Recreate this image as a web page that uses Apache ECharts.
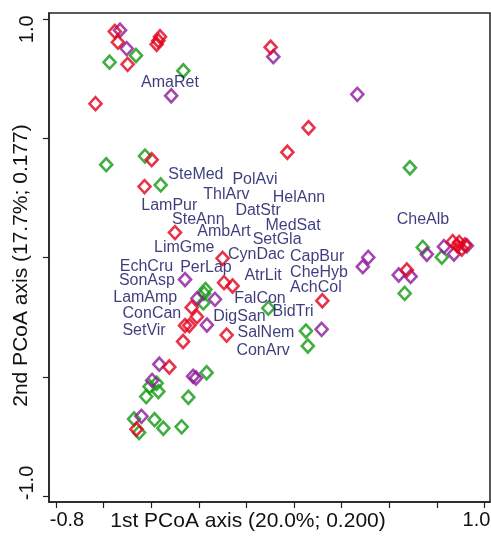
<!DOCTYPE html>
<html>
<head>
<meta charset="utf-8">
<script src="https://cdn.jsdelivr.net/npm/echarts@6/dist/echarts.min.js"></script>
<style>html,body{margin:0;padding:0;background:#fff}#c{width:491px;height:541px}</style>
</head>
<body>
<div id="c"></div>
<script>
// Site scores (1st PCoA, 2nd PCoA)
const redPoints = [
  [-0.553, 0.949], [-0.540, 0.904], [-0.363, 0.927], [-0.370, 0.910], [-0.377, 0.895],
  [-0.499, 0.811], [-0.634, 0.646], [0.102, 0.883], [0.261, 0.545], [0.172, 0.442],
  [-0.398, 0.411], [-0.428, 0.298], [-0.300, 0.105], [-0.100, -0.003], [-0.094, -0.105],
  [-0.058, -0.119], [-0.230, -0.209], [-0.208, -0.248], [-0.258, -0.285], [-0.240, -0.285],
  [-0.083, -0.325], [-0.266, -0.352], [-0.324, -0.459], [-0.462, -0.720], [0.319, -0.181],
  [0.674, -0.052], [0.867, 0.067], [0.886, 0.050], [0.905, 0.036], [0.918, 0.053], [0.894, 0.064]
];
const greenPoints = [
  [-0.575, 0.820], [-0.464, 0.848], [-0.265, 0.784], [-0.589, 0.390], [-0.426, 0.426],
  [-0.360, 0.305], [0.687, 0.377], [-0.172, -0.134], [-0.178, -0.150], [-0.181, -0.190],
  [0.092, -0.212], [0.250, -0.308], [0.258, -0.371], [-0.167, -0.483], [-0.377, -0.527],
  [-0.407, -0.541], [-0.370, -0.562], [-0.421, -0.583], [-0.244, -0.586], [-0.472, -0.677],
  [-0.386, -0.680], [-0.451, -0.734], [-0.349, -0.716], [-0.272, -0.710], [0.741, 0.043],
  [0.821, 0.002], [0.665, -0.150]
];
const purplePoints = [
  [-0.531, 0.954], [-0.503, 0.877], [-0.316, 0.679], [0.113, 0.843], [0.466, 0.685],
  [-0.258, -0.092], [-0.206, -0.171], [-0.132, -0.175], [-0.166, -0.283], [0.512, 0.001],
  [0.489, -0.038], [0.316, -0.301], [-0.366, -0.447], [-0.224, -0.498], [-0.212, -0.505],
  [-0.396, -0.515], [-0.441, -0.666], [0.758, 0.014], [0.830, 0.046], [0.872, 0.015],
  [0.926, 0.050], [0.640, -0.073], [0.690, -0.079]
];
// Species scores
const speciesNames = [
  'AmaRet','SteMed','PolAvi','ThlArv','HelAnn','LamPur','DatStr','SteAnn','CheAlb','MedSat',
  'AmbArt','SetGla','LimGme','CynDac','CapBur','EchCru','PerLap','CheHyb','AtrLit','SonAsp',
  'AchCol','LamAmp','FalCon','BidTri','ConCan','DigSan','SetVir','SalNem','ConArv'
];
const speciesX = [
  -0.321, -0.212, 0.036, -0.084, 0.221, -0.324, 0.049, -0.202, 0.742, 0.196,
  -0.094, 0.129, -0.261, 0.042, 0.297, -0.420, -0.170, 0.305, 0.070, -0.418,
  0.292, -0.425, 0.057, 0.196, -0.397, -0.029, -0.430, 0.082, 0.070
];
const speciesY = [
  0.736, 0.347, 0.326, 0.263, 0.252, 0.218, 0.196, 0.158, 0.161, 0.133,
  0.108, 0.074, 0.042, 0.011, 0.003, -0.037, -0.043, -0.064, -0.077, -0.098,
  -0.124, -0.166, -0.173, -0.227, -0.236, -0.247, -0.308, -0.316, -0.392
];
const xTicks = [-0.8, -0.6, -0.4, -0.2, 0, 0.2, 0.4, 0.6, 0.8, 1.0];
const xTickLabels = [-0.8, 1.0];
const yTicks = [-1.0, -0.5, 0, 0.5, 1.0];
const yTickLabels = [-1.0, 1.0];
const xName = '1st PCoA axis (20.0%; 0.200)';
const yName = '2nd PCoA axis (17.7%; 0.177)';

const FONT = "'Liberation Sans', Arial, sans-serif";
const chart = echarts.init(document.getElementById('c'), null, {renderer: 'canvas'});

function diamondSeries(data, color) {
  return {
    type: 'scatter', data: data, symbol: 'diamond', symbolSize: [12, 13],
    itemStyle: {color: 'rgba(0,0,0,0)', borderColor: color, borderWidth: 2.6},
    emphasis: {disabled: true}, silent: true, z: 3
  };
}

const speciesData = speciesNames.map((n, i) => ({name: n, value: [speciesX[i], speciesY[i]]}));

chart.setOption({
  animation: false,
  backgroundColor: '#fff',
  grid: {left: 49, right: 1, top: 13, bottom: 39, show: true, borderColor: '#222', borderWidth: 1.5,
         containLabel: false, outerBoundsMode: 'none'},
  xAxis: {
    type: 'value', min: -0.8294, max: 1.0235,
    axisLine: {show: true, onZero: false, lineStyle: {color: '#222', width: 1.5}},
    axisTick: {show: true, length: 6, customValues: xTicks, lineStyle: {color: '#222', width: 1.2}},
    axisLabel: {
      customValues: xTickLabels, margin: 8, color: '#111', fontSize: 20, fontFamily: FONT,
      formatter: v => (v < 0 ? '{a|' : '{b|') + v.toFixed(1) + '}',
      rich: {
        a: {fontSize: 20, color: '#111', fontFamily: FONT, padding: [0, 0, 0, 22]},
        b: {fontSize: 20, color: '#111', fontFamily: FONT, padding: [0, 16, 0, 0]}
      }
    },
    splitLine: {show: false},
    name: xName, nameLocation: 'middle', nameGap: 9, nameMoveOverlap: false,
    nameTextStyle: {fontSize: 21, color: '#111', fontFamily: FONT, padding: [0, 43, 0, 0]}
  },
  yAxis: {
    type: 'value', min: -1.0253, max: 1.0264,
    axisLine: {show: true, onZero: false, lineStyle: {color: '#222', width: 1.5}},
    axisTick: {show: true, length: 6, customValues: yTicks, lineStyle: {color: '#222', width: 1.2}},
    axisLabel: {
      customValues: yTickLabels, rotate: 90, margin: 12, color: '#111', fontSize: 20, fontFamily: FONT,
      formatter: v => (v < 0 ? '{a|' : '{b|') + v.toFixed(1) + '}',
      rich: {
        a: {fontSize: 20, color: '#111', fontFamily: FONT, padding: [0, 0, 0, 26]},
        b: {fontSize: 20, color: '#111', fontFamily: FONT, padding: [0, 20, 0, 0]}
      }
    },
    splitLine: {show: false},
    name: yName, nameLocation: 'middle', nameGap: 17, nameMoveOverlap: false,
    nameTextStyle: {fontSize: 21, color: '#111', fontFamily: FONT, padding: [0, 16, 0, 0]}
  },
  series: [
    diamondSeries(greenPoints, '#139A13'),
    diamondSeries(purplePoints, '#8C1898'),
    diamondSeries(redPoints, '#E2001A'),
    {
      type: 'scatter', data: speciesData, symbolSize: 0, silent: true, z: 5,
      label: {show: true, position: 'inside', formatter: '{b}', color: '#0c0c5e', fontSize: 16, fontFamily: FONT},
      emphasis: {disabled: true}
    }
  ]
});
</script>
</body>
</html>
